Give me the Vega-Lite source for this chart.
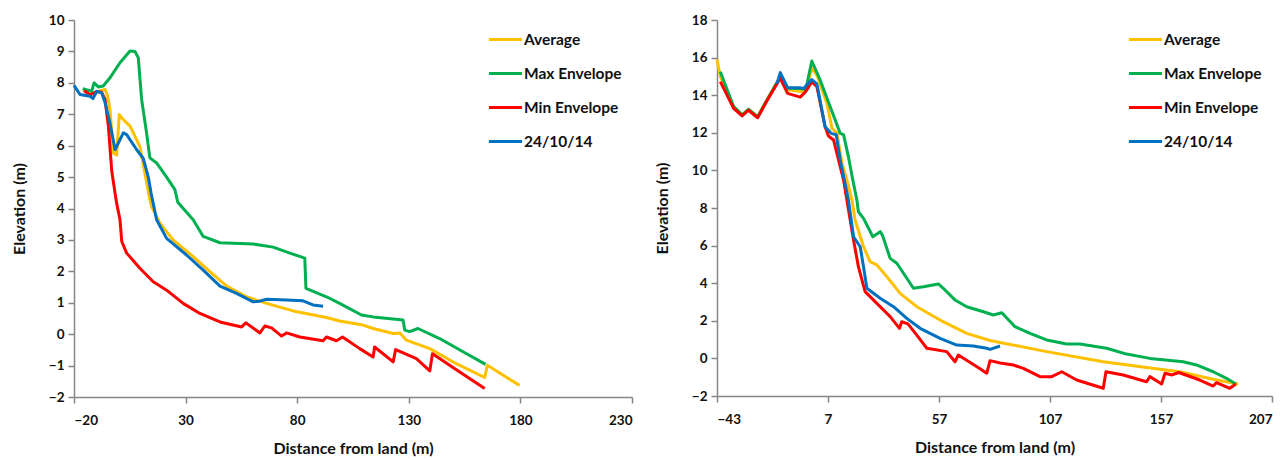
{
  "$schema": "https://vega.github.io/schema/vega-lite/v6.json",
  "background": "white",
  "padding": {"left": 11, "top": 13, "right": 5, "bottom": 5},
  "spacing": 21,
  "config": {
    "view": {"stroke": null},
    "font": "Lato",
    "axis": {
      "grid": false,
      "domainColor": "#868686",
      "domainWidth": 1.5,
      "tickColor": "#868686",
      "tickWidth": 1.5,
      "tickSize": 6,
      "labelFont": "Lato",
      "labelFontWeight": "bold",
      "labelFontSize": 13.5,
      "labelColor": "#111",
      "labelPadding": 4,
      "titleFont": "Lato",
      "titleFontWeight": "bold",
      "titleFontSize": 16,
      "titleColor": "#111"
    },
    "legend": {
      "orient": "none",
      "title": null,
      "symbolType": "stroke",
      "symbolSize": 1100,
      "symbolStrokeWidth": 3,
      "labelFont": "Lato",
      "labelFontWeight": "bold",
      "labelFontSize": 15.5,
      "labelColor": "#111",
      "labelOffset": 0,
      "rowPadding": 7,
      "labelLimit": 300
    }
  },
  "data": {
    "values": [
      {"p": "L", "s": "Average", "x": -15.8, "y": 7.81},
      {"p": "L", "s": "Average", "x": -12.8, "y": 7.62},
      {"p": "L", "s": "Average", "x": -9.8, "y": 7.72},
      {"p": "L", "s": "Average", "x": -6.1, "y": 7.79},
      {"p": "L", "s": "Average", "x": -5.0, "y": 7.6},
      {"p": "L", "s": "Average", "x": -3.9, "y": 7.15},
      {"p": "L", "s": "Average", "x": -2.4, "y": 5.77},
      {"p": "L", "s": "Average", "x": -0.9, "y": 5.7},
      {"p": "L", "s": "Average", "x": 0.3, "y": 6.99},
      {"p": "L", "s": "Average", "x": 2.1, "y": 6.83},
      {"p": "L", "s": "Average", "x": 5.1, "y": 6.62},
      {"p": "L", "s": "Average", "x": 7.3, "y": 6.3},
      {"p": "L", "s": "Average", "x": 9.5, "y": 5.98},
      {"p": "L", "s": "Average", "x": 11.8, "y": 5.1},
      {"p": "L", "s": "Average", "x": 14.0, "y": 4.28},
      {"p": "L", "s": "Average", "x": 14.8, "y": 4.06},
      {"p": "L", "s": "Average", "x": 18.5, "y": 3.53},
      {"p": "L", "s": "Average", "x": 24.4, "y": 3.0},
      {"p": "L", "s": "Average", "x": 33.4, "y": 2.47},
      {"p": "L", "s": "Average", "x": 40.9, "y": 1.99},
      {"p": "L", "s": "Average", "x": 48.4, "y": 1.53},
      {"p": "L", "s": "Average", "x": 57.3, "y": 1.19},
      {"p": "L", "s": "Average", "x": 66.3, "y": 0.98},
      {"p": "L", "s": "Average", "x": 78.2, "y": 0.74},
      {"p": "L", "s": "Average", "x": 93.1, "y": 0.53},
      {"p": "L", "s": "Average", "x": 99.0, "y": 0.42},
      {"p": "L", "s": "Average", "x": 109.5, "y": 0.29},
      {"p": "L", "s": "Average", "x": 114.0, "y": 0.18},
      {"p": "L", "s": "Average", "x": 123.0, "y": 0.02},
      {"p": "L", "s": "Average", "x": 126.0, "y": 0.04},
      {"p": "L", "s": "Average", "x": 128.9, "y": -0.19},
      {"p": "L", "s": "Average", "x": 139.4, "y": -0.46},
      {"p": "L", "s": "Average", "x": 151.3, "y": -0.94},
      {"p": "L", "s": "Average", "x": 164.0, "y": -1.38},
      {"p": "L", "s": "Average", "x": 165.2, "y": -0.99},
      {"p": "L", "s": "Average", "x": 179.6, "y": -1.63},

      {"p": "L", "s": "Max Envelope", "x": -16.1, "y": 7.81},
      {"p": "L", "s": "Max Envelope", "x": -12.1, "y": 7.73},
      {"p": "L", "s": "Max Envelope", "x": -11.0, "y": 8.0},
      {"p": "L", "s": "Max Envelope", "x": -9.1, "y": 7.87},
      {"p": "L", "s": "Max Envelope", "x": -6.9, "y": 7.9},
      {"p": "L", "s": "Max Envelope", "x": -3.9, "y": 8.16},
      {"p": "L", "s": "Max Envelope", "x": 0.6, "y": 8.64},
      {"p": "L", "s": "Max Envelope", "x": 5.1, "y": 9.01},
      {"p": "L", "s": "Max Envelope", "x": 7.3, "y": 9.0},
      {"p": "L", "s": "Max Envelope", "x": 8.8, "y": 8.8},
      {"p": "L", "s": "Max Envelope", "x": 10.3, "y": 7.47},
      {"p": "L", "s": "Max Envelope", "x": 12.5, "y": 6.41},
      {"p": "L", "s": "Max Envelope", "x": 14.0, "y": 5.61},
      {"p": "L", "s": "Max Envelope", "x": 17.0, "y": 5.45},
      {"p": "L", "s": "Max Envelope", "x": 21.5, "y": 5.0},
      {"p": "L", "s": "Max Envelope", "x": 25.2, "y": 4.6},
      {"p": "L", "s": "Max Envelope", "x": 26.5, "y": 4.2},
      {"p": "L", "s": "Max Envelope", "x": 33.4, "y": 3.64},
      {"p": "L", "s": "Max Envelope", "x": 37.9, "y": 3.11},
      {"p": "L", "s": "Max Envelope", "x": 45.4, "y": 2.91},
      {"p": "L", "s": "Max Envelope", "x": 60.3, "y": 2.87},
      {"p": "L", "s": "Max Envelope", "x": 69.2, "y": 2.77},
      {"p": "L", "s": "Max Envelope", "x": 76.7, "y": 2.58},
      {"p": "L", "s": "Max Envelope", "x": 83.4, "y": 2.42},
      {"p": "L", "s": "Max Envelope", "x": 83.9, "y": 1.46},
      {"p": "L", "s": "Max Envelope", "x": 93.1, "y": 1.19},
      {"p": "L", "s": "Max Envelope", "x": 99.0, "y": 0.98},
      {"p": "L", "s": "Max Envelope", "x": 108.8, "y": 0.61},
      {"p": "L", "s": "Max Envelope", "x": 114.0, "y": 0.55},
      {"p": "L", "s": "Max Envelope", "x": 127.4, "y": 0.45},
      {"p": "L", "s": "Max Envelope", "x": 128.2, "y": 0.13},
      {"p": "L", "s": "Max Envelope", "x": 130.4, "y": 0.08},
      {"p": "L", "s": "Max Envelope", "x": 134.1, "y": 0.18},
      {"p": "L", "s": "Max Envelope", "x": 143.8, "y": -0.14},
      {"p": "L", "s": "Max Envelope", "x": 154.3, "y": -0.56},
      {"p": "L", "s": "Max Envelope", "x": 164.4, "y": -0.96},

      {"p": "L", "s": "Min Envelope", "x": -15.5, "y": 7.75},
      {"p": "L", "s": "Min Envelope", "x": -12.8, "y": 7.62},
      {"p": "L", "s": "Min Envelope", "x": -9.8, "y": 7.72},
      {"p": "L", "s": "Min Envelope", "x": -7.6, "y": 7.7},
      {"p": "L", "s": "Min Envelope", "x": -6.1, "y": 7.47},
      {"p": "L", "s": "Min Envelope", "x": -4.6, "y": 6.62},
      {"p": "L", "s": "Min Envelope", "x": -3.1, "y": 5.2},
      {"p": "L", "s": "Min Envelope", "x": -1.6, "y": 4.49},
      {"p": "L", "s": "Min Envelope", "x": -0.9, "y": 4.17},
      {"p": "L", "s": "Min Envelope", "x": 0.6, "y": 3.64},
      {"p": "L", "s": "Min Envelope", "x": 1.4, "y": 2.95},
      {"p": "L", "s": "Min Envelope", "x": 3.6, "y": 2.58},
      {"p": "L", "s": "Min Envelope", "x": 9.5, "y": 2.1},
      {"p": "L", "s": "Min Envelope", "x": 15.5, "y": 1.67},
      {"p": "L", "s": "Min Envelope", "x": 21.5, "y": 1.4},
      {"p": "L", "s": "Min Envelope", "x": 28.9, "y": 0.98},
      {"p": "L", "s": "Min Envelope", "x": 36.4, "y": 0.66},
      {"p": "L", "s": "Min Envelope", "x": 45.4, "y": 0.39},
      {"p": "L", "s": "Min Envelope", "x": 55.1, "y": 0.23},
      {"p": "L", "s": "Min Envelope", "x": 57.0, "y": 0.36},
      {"p": "L", "s": "Min Envelope", "x": 63.3, "y": 0.04},
      {"p": "L", "s": "Min Envelope", "x": 65.5, "y": 0.26},
      {"p": "L", "s": "Min Envelope", "x": 68.5, "y": 0.2},
      {"p": "L", "s": "Min Envelope", "x": 73.0, "y": -0.06},
      {"p": "L", "s": "Min Envelope", "x": 75.2, "y": 0.04},
      {"p": "L", "s": "Min Envelope", "x": 81.2, "y": -0.09},
      {"p": "L", "s": "Min Envelope", "x": 91.6, "y": -0.21},
      {"p": "L", "s": "Min Envelope", "x": 93.1, "y": -0.09},
      {"p": "L", "s": "Min Envelope", "x": 97.6, "y": -0.21},
      {"p": "L", "s": "Min Envelope", "x": 100.3, "y": -0.09},
      {"p": "L", "s": "Min Envelope", "x": 108.0, "y": -0.46},
      {"p": "L", "s": "Min Envelope", "x": 114.0, "y": -0.73},
      {"p": "L", "s": "Min Envelope", "x": 114.7, "y": -0.41},
      {"p": "L", "s": "Min Envelope", "x": 123.0, "y": -0.88},
      {"p": "L", "s": "Min Envelope", "x": 124.1, "y": -0.49},
      {"p": "L", "s": "Min Envelope", "x": 133.4, "y": -0.78},
      {"p": "L", "s": "Min Envelope", "x": 139.4, "y": -1.17},
      {"p": "L", "s": "Min Envelope", "x": 140.6, "y": -0.62},
      {"p": "L", "s": "Min Envelope", "x": 151.3, "y": -1.13},
      {"p": "L", "s": "Min Envelope", "x": 164.0, "y": -1.73},

      {"p": "L", "s": "24/10/14", "x": -20.0, "y": 7.92},
      {"p": "L", "s": "24/10/14", "x": -17.3, "y": 7.63},
      {"p": "L", "s": "24/10/14", "x": -12.8, "y": 7.57},
      {"p": "L", "s": "24/10/14", "x": -11.5, "y": 7.5},
      {"p": "L", "s": "24/10/14", "x": -9.8, "y": 7.73},
      {"p": "L", "s": "24/10/14", "x": -7.6, "y": 7.68},
      {"p": "L", "s": "24/10/14", "x": -6.1, "y": 7.37},
      {"p": "L", "s": "24/10/14", "x": -3.9, "y": 6.73},
      {"p": "L", "s": "24/10/14", "x": -1.6, "y": 5.87},
      {"p": "L", "s": "24/10/14", "x": 2.1, "y": 6.41},
      {"p": "L", "s": "24/10/14", "x": 3.6, "y": 6.35},
      {"p": "L", "s": "24/10/14", "x": 8.1, "y": 5.87},
      {"p": "L", "s": "24/10/14", "x": 11.0, "y": 5.6},
      {"p": "L", "s": "24/10/14", "x": 13.3, "y": 5.0},
      {"p": "L", "s": "24/10/14", "x": 14.5, "y": 4.5},
      {"p": "L", "s": "24/10/14", "x": 17.0, "y": 3.64},
      {"p": "L", "s": "24/10/14", "x": 21.5, "y": 3.05},
      {"p": "L", "s": "24/10/14", "x": 30.4, "y": 2.52},
      {"p": "L", "s": "24/10/14", "x": 37.9, "y": 2.04},
      {"p": "L", "s": "24/10/14", "x": 45.4, "y": 1.53},
      {"p": "L", "s": "24/10/14", "x": 52.8, "y": 1.3},
      {"p": "L", "s": "24/10/14", "x": 60.3, "y": 1.03},
      {"p": "L", "s": "24/10/14", "x": 63.0, "y": 1.05},
      {"p": "L", "s": "24/10/14", "x": 66.3, "y": 1.11},
      {"p": "L", "s": "24/10/14", "x": 75.2, "y": 1.09},
      {"p": "L", "s": "24/10/14", "x": 82.6, "y": 1.06},
      {"p": "L", "s": "24/10/14", "x": 87.1, "y": 0.93},
      {"p": "L", "s": "24/10/14", "x": 91.6, "y": 0.89},

      {"p": "R", "s": "Average", "x": -43.0, "y": 15.9},
      {"p": "R", "s": "Average", "x": -41.5, "y": 15.0},
      {"p": "R", "s": "Average", "x": -35.5, "y": 13.39},
      {"p": "R", "s": "Average", "x": -31.7, "y": 12.95},
      {"p": "R", "s": "Average", "x": -28.8, "y": 13.25},
      {"p": "R", "s": "Average", "x": -24.7, "y": 12.86},
      {"p": "R", "s": "Average", "x": -20.5, "y": 13.74},
      {"p": "R", "s": "Average", "x": -14.5, "y": 14.98},
      {"p": "R", "s": "Average", "x": -11.2, "y": 14.3},
      {"p": "R", "s": "Average", "x": -5.5, "y": 14.2},
      {"p": "R", "s": "Average", "x": -3.0, "y": 14.25},
      {"p": "R", "s": "Average", "x": -0.3, "y": 15.43},
      {"p": "R", "s": "Average", "x": 2.0, "y": 15.07},
      {"p": "R", "s": "Average", "x": 6.5, "y": 13.57},
      {"p": "R", "s": "Average", "x": 8.8, "y": 12.24},
      {"p": "R", "s": "Average", "x": 11.0, "y": 12.0},
      {"p": "R", "s": "Average", "x": 13.3, "y": 10.38},
      {"p": "R", "s": "Average", "x": 15.5, "y": 9.49},
      {"p": "R", "s": "Average", "x": 17.8, "y": 8.43},
      {"p": "R", "s": "Average", "x": 19.2, "y": 7.36},
      {"p": "R", "s": "Average", "x": 23.0, "y": 5.94},
      {"p": "R", "s": "Average", "x": 26.0, "y": 5.14},
      {"p": "R", "s": "Average", "x": 29.0, "y": 4.97},
      {"p": "R", "s": "Average", "x": 33.5, "y": 4.35},
      {"p": "R", "s": "Average", "x": 39.5, "y": 3.46},
      {"p": "R", "s": "Average", "x": 47.0, "y": 2.75},
      {"p": "R", "s": "Average", "x": 57.5, "y": 2.04},
      {"p": "R", "s": "Average", "x": 69.5, "y": 1.33},
      {"p": "R", "s": "Average", "x": 80.0, "y": 0.95},
      {"p": "R", "s": "Average", "x": 84.5, "y": 0.85},
      {"p": "R", "s": "Average", "x": 105.5, "y": 0.36},
      {"p": "R", "s": "Average", "x": 131.0, "y": -0.18},
      {"p": "R", "s": "Average", "x": 156.5, "y": -0.58},
      {"p": "R", "s": "Average", "x": 165.5, "y": -0.71},
      {"p": "R", "s": "Average", "x": 180.5, "y": -1.11},
      {"p": "R", "s": "Average", "x": 191.7, "y": -1.36},

      {"p": "R", "s": "Max Envelope", "x": -41.5, "y": 15.25},
      {"p": "R", "s": "Max Envelope", "x": -35.5, "y": 13.39},
      {"p": "R", "s": "Max Envelope", "x": -31.7, "y": 12.95},
      {"p": "R", "s": "Max Envelope", "x": -28.8, "y": 13.25},
      {"p": "R", "s": "Max Envelope", "x": -24.7, "y": 12.86},
      {"p": "R", "s": "Max Envelope", "x": -20.5, "y": 13.74},
      {"p": "R", "s": "Max Envelope", "x": -14.5, "y": 14.98},
      {"p": "R", "s": "Max Envelope", "x": -11.2, "y": 14.37},
      {"p": "R", "s": "Max Envelope", "x": -5.5, "y": 14.35},
      {"p": "R", "s": "Max Envelope", "x": -3.0, "y": 14.3},
      {"p": "R", "s": "Max Envelope", "x": -0.3, "y": 15.82},
      {"p": "R", "s": "Max Envelope", "x": 3.5, "y": 14.8},
      {"p": "R", "s": "Max Envelope", "x": 8.0, "y": 13.39},
      {"p": "R", "s": "Max Envelope", "x": 12.5, "y": 11.97},
      {"p": "R", "s": "Max Envelope", "x": 14.0, "y": 11.9},
      {"p": "R", "s": "Max Envelope", "x": 16.2, "y": 10.73},
      {"p": "R", "s": "Max Envelope", "x": 18.0, "y": 9.6},
      {"p": "R", "s": "Max Envelope", "x": 20.0, "y": 8.43},
      {"p": "R", "s": "Max Envelope", "x": 20.7, "y": 7.8},
      {"p": "R", "s": "Max Envelope", "x": 23.0, "y": 7.45},
      {"p": "R", "s": "Max Envelope", "x": 27.2, "y": 6.47},
      {"p": "R", "s": "Max Envelope", "x": 30.5, "y": 6.74},
      {"p": "R", "s": "Max Envelope", "x": 31.5, "y": 6.56},
      {"p": "R", "s": "Max Envelope", "x": 35.0, "y": 5.32},
      {"p": "R", "s": "Max Envelope", "x": 38.0, "y": 5.06},
      {"p": "R", "s": "Max Envelope", "x": 45.5, "y": 3.73},
      {"p": "R", "s": "Max Envelope", "x": 50.0, "y": 3.81},
      {"p": "R", "s": "Max Envelope", "x": 56.7, "y": 3.96},
      {"p": "R", "s": "Max Envelope", "x": 59.7, "y": 3.64},
      {"p": "R", "s": "Max Envelope", "x": 64.2, "y": 3.11},
      {"p": "R", "s": "Max Envelope", "x": 69.5, "y": 2.75},
      {"p": "R", "s": "Max Envelope", "x": 77.0, "y": 2.48},
      {"p": "R", "s": "Max Envelope", "x": 81.5, "y": 2.31},
      {"p": "R", "s": "Max Envelope", "x": 85.3, "y": 2.43},
      {"p": "R", "s": "Max Envelope", "x": 91.2, "y": 1.69},
      {"p": "R", "s": "Max Envelope", "x": 98.0, "y": 1.33},
      {"p": "R", "s": "Max Envelope", "x": 105.5, "y": 0.98},
      {"p": "R", "s": "Max Envelope", "x": 114.5, "y": 0.77},
      {"p": "R", "s": "Max Envelope", "x": 120.5, "y": 0.77},
      {"p": "R", "s": "Max Envelope", "x": 132.5, "y": 0.54},
      {"p": "R", "s": "Max Envelope", "x": 141.5, "y": 0.23},
      {"p": "R", "s": "Max Envelope", "x": 152.0, "y": 0.0},
      {"p": "R", "s": "Max Envelope", "x": 167.0, "y": -0.18},
      {"p": "R", "s": "Max Envelope", "x": 173.0, "y": -0.35},
      {"p": "R", "s": "Max Envelope", "x": 180.5, "y": -0.71},
      {"p": "R", "s": "Max Envelope", "x": 186.5, "y": -1.06},
      {"p": "R", "s": "Max Envelope", "x": 190.7, "y": -1.36},

      {"p": "R", "s": "Min Envelope", "x": -41.5, "y": 14.72},
      {"p": "R", "s": "Min Envelope", "x": -35.5, "y": 13.3},
      {"p": "R", "s": "Min Envelope", "x": -31.7, "y": 12.9},
      {"p": "R", "s": "Min Envelope", "x": -28.8, "y": 13.2},
      {"p": "R", "s": "Min Envelope", "x": -24.7, "y": 12.8},
      {"p": "R", "s": "Min Envelope", "x": -20.5, "y": 13.7},
      {"p": "R", "s": "Min Envelope", "x": -14.5, "y": 14.9},
      {"p": "R", "s": "Min Envelope", "x": -11.2, "y": 14.1},
      {"p": "R", "s": "Min Envelope", "x": -5.5, "y": 13.9},
      {"p": "R", "s": "Min Envelope", "x": -3.0, "y": 14.2},
      {"p": "R", "s": "Min Envelope", "x": -0.3, "y": 14.72},
      {"p": "R", "s": "Min Envelope", "x": 2.0, "y": 14.45},
      {"p": "R", "s": "Min Envelope", "x": 5.7, "y": 12.32},
      {"p": "R", "s": "Min Envelope", "x": 7.2, "y": 11.83},
      {"p": "R", "s": "Min Envelope", "x": 9.5, "y": 11.62},
      {"p": "R", "s": "Min Envelope", "x": 14.0, "y": 9.49},
      {"p": "R", "s": "Min Envelope", "x": 15.5, "y": 8.43},
      {"p": "R", "s": "Min Envelope", "x": 18.5, "y": 6.3},
      {"p": "R", "s": "Min Envelope", "x": 20.7, "y": 4.88},
      {"p": "R", "s": "Min Envelope", "x": 23.7, "y": 3.55},
      {"p": "R", "s": "Min Envelope", "x": 29.0, "y": 2.93},
      {"p": "R", "s": "Min Envelope", "x": 35.0, "y": 2.22},
      {"p": "R", "s": "Min Envelope", "x": 39.2, "y": 1.6},
      {"p": "R", "s": "Min Envelope", "x": 40.2, "y": 1.95},
      {"p": "R", "s": "Min Envelope", "x": 43.0, "y": 1.84},
      {"p": "R", "s": "Min Envelope", "x": 47.0, "y": 1.24},
      {"p": "R", "s": "Min Envelope", "x": 51.5, "y": 0.54},
      {"p": "R", "s": "Min Envelope", "x": 60.5, "y": 0.36},
      {"p": "R", "s": "Min Envelope", "x": 64.2, "y": -0.18},
      {"p": "R", "s": "Min Envelope", "x": 65.7, "y": 0.18},
      {"p": "R", "s": "Min Envelope", "x": 75.5, "y": -0.55},
      {"p": "R", "s": "Min Envelope", "x": 78.5, "y": -0.79},
      {"p": "R", "s": "Min Envelope", "x": 80.0, "y": -0.12},
      {"p": "R", "s": "Min Envelope", "x": 84.5, "y": -0.24},
      {"p": "R", "s": "Min Envelope", "x": 90.5, "y": -0.35},
      {"p": "R", "s": "Min Envelope", "x": 95.0, "y": -0.53},
      {"p": "R", "s": "Min Envelope", "x": 102.5, "y": -0.97},
      {"p": "R", "s": "Min Envelope", "x": 107.8, "y": -0.97},
      {"p": "R", "s": "Min Envelope", "x": 112.3, "y": -0.71},
      {"p": "R", "s": "Min Envelope", "x": 119.0, "y": -1.15},
      {"p": "R", "s": "Min Envelope", "x": 131.0, "y": -1.59},
      {"p": "R", "s": "Min Envelope", "x": 132.2, "y": -0.71},
      {"p": "R", "s": "Min Envelope", "x": 140.0, "y": -0.88},
      {"p": "R", "s": "Min Envelope", "x": 150.5, "y": -1.24},
      {"p": "R", "s": "Min Envelope", "x": 152.0, "y": -0.97},
      {"p": "R", "s": "Min Envelope", "x": 157.3, "y": -1.36},
      {"p": "R", "s": "Min Envelope", "x": 158.8, "y": -0.79},
      {"p": "R", "s": "Min Envelope", "x": 162.0, "y": -0.88},
      {"p": "R", "s": "Min Envelope", "x": 165.0, "y": -0.75},
      {"p": "R", "s": "Min Envelope", "x": 174.5, "y": -1.15},
      {"p": "R", "s": "Min Envelope", "x": 180.5, "y": -1.47},
      {"p": "R", "s": "Min Envelope", "x": 182.0, "y": -1.29},
      {"p": "R", "s": "Min Envelope", "x": 188.0, "y": -1.59},
      {"p": "R", "s": "Min Envelope", "x": 190.7, "y": -1.36},

      {"p": "R", "s": "24/10/14", "x": -16.0, "y": 14.6},
      {"p": "R", "s": "24/10/14", "x": -14.5, "y": 15.2},
      {"p": "R", "s": "24/10/14", "x": -11.2, "y": 14.4},
      {"p": "R", "s": "24/10/14", "x": -5.5, "y": 14.4},
      {"p": "R", "s": "24/10/14", "x": -4.0, "y": 14.35},
      {"p": "R", "s": "24/10/14", "x": -0.3, "y": 14.83},
      {"p": "R", "s": "24/10/14", "x": 2.0, "y": 14.6},
      {"p": "R", "s": "24/10/14", "x": 5.7, "y": 12.32},
      {"p": "R", "s": "24/10/14", "x": 8.4, "y": 11.97},
      {"p": "R", "s": "24/10/14", "x": 10.7, "y": 11.9},
      {"p": "R", "s": "24/10/14", "x": 12.5, "y": 10.55},
      {"p": "R", "s": "24/10/14", "x": 16.2, "y": 8.43},
      {"p": "R", "s": "24/10/14", "x": 18.5, "y": 6.47},
      {"p": "R", "s": "24/10/14", "x": 21.5, "y": 5.94},
      {"p": "R", "s": "24/10/14", "x": 23.0, "y": 4.88},
      {"p": "R", "s": "24/10/14", "x": 24.5, "y": 3.73},
      {"p": "R", "s": "24/10/14", "x": 30.5, "y": 3.2},
      {"p": "R", "s": "24/10/14", "x": 36.5, "y": 2.75},
      {"p": "R", "s": "24/10/14", "x": 42.5, "y": 2.13},
      {"p": "R", "s": "24/10/14", "x": 48.5, "y": 1.6},
      {"p": "R", "s": "24/10/14", "x": 57.5, "y": 1.07},
      {"p": "R", "s": "24/10/14", "x": 65.0, "y": 0.71},
      {"p": "R", "s": "24/10/14", "x": 72.5, "y": 0.66},
      {"p": "R", "s": "24/10/14", "x": 78.5, "y": 0.54},
      {"p": "R", "s": "24/10/14", "x": 80.0, "y": 0.48},
      {"p": "R", "s": "24/10/14", "x": 84.5, "y": 0.66}
    ]
  },
  "resolve": {"legend": {"color": "independent"}, "scale": {"x": "independent", "y": "independent", "color": "independent"}},
  "hconcat": [
    {
      "width": 558,
      "height": 377,
      "transform": [{"filter": "datum.p === 'L'"}],
      "mark": {"type": "line", "strokeWidth": 3, "strokeJoin": "round"},
      "encoding": {
        "x": {"field": "x", "type": "quantitative", "title": "Distance from land (m)",
              "scale": {"domain": [-20, 230], "nice": false, "zero": false},
              "axis": {"values": [-20, 30, 80, 130, 180, 230], "labelPadding": 10, "titlePadding": 14}},
        "y": {"field": "y", "type": "quantitative", "title": "Elevation (m)",
              "scale": {"domain": [-2, 10], "nice": false, "zero": false},
              "axis": {"values": [-2, -1, 0, 1, 2, 3, 4, 5, 6, 7, 8, 9, 10], "titlePadding": 21}},
        "color": {"field": "s", "type": "nominal",
                  "scale": {"domain": ["Average", "Max Envelope", "Min Envelope", "24/10/14"],
                            "range": ["#FFC000", "#00B050", "#FF0000", "#0070C0"]},
                  "legend": {"legendX": 413, "legendY": 1}},
        "detail": {"field": "s"},
        "order": {"field": "x"}
      }
    },
    {
      "width": 555,
      "height": 376,
      "transform": [{"filter": "datum.p === 'R'"}],
      "mark": {"type": "line", "strokeWidth": 3, "strokeJoin": "round"},
      "encoding": {
        "x": {"field": "x", "type": "quantitative", "title": "Distance from land (m)",
              "scale": {"domain": [-43, 207], "nice": false, "zero": false},
              "axis": {"values": [-43, 7, 57, 107, 157, 207], "labelPadding": 10, "titlePadding": 14}},
        "y": {"field": "y", "type": "quantitative", "title": "Elevation (m)",
              "scale": {"domain": [-2, 18], "nice": false, "zero": false},
              "axis": {"values": [-2, 0, 2, 4, 6, 8, 10, 12, 14, 16, 18], "titlePadding": 21}},
        "color": {"field": "s", "type": "nominal",
                  "scale": {"domain": ["Average", "Max Envelope", "Min Envelope", "24/10/14"],
                            "range": ["#FFC000", "#00B050", "#FF0000", "#0070C0"]},
                  "legend": {"legendX": 410, "legendY": 1}},
        "detail": {"field": "s"},
        "order": {"field": "x"}
      }
    }
  ]
}
